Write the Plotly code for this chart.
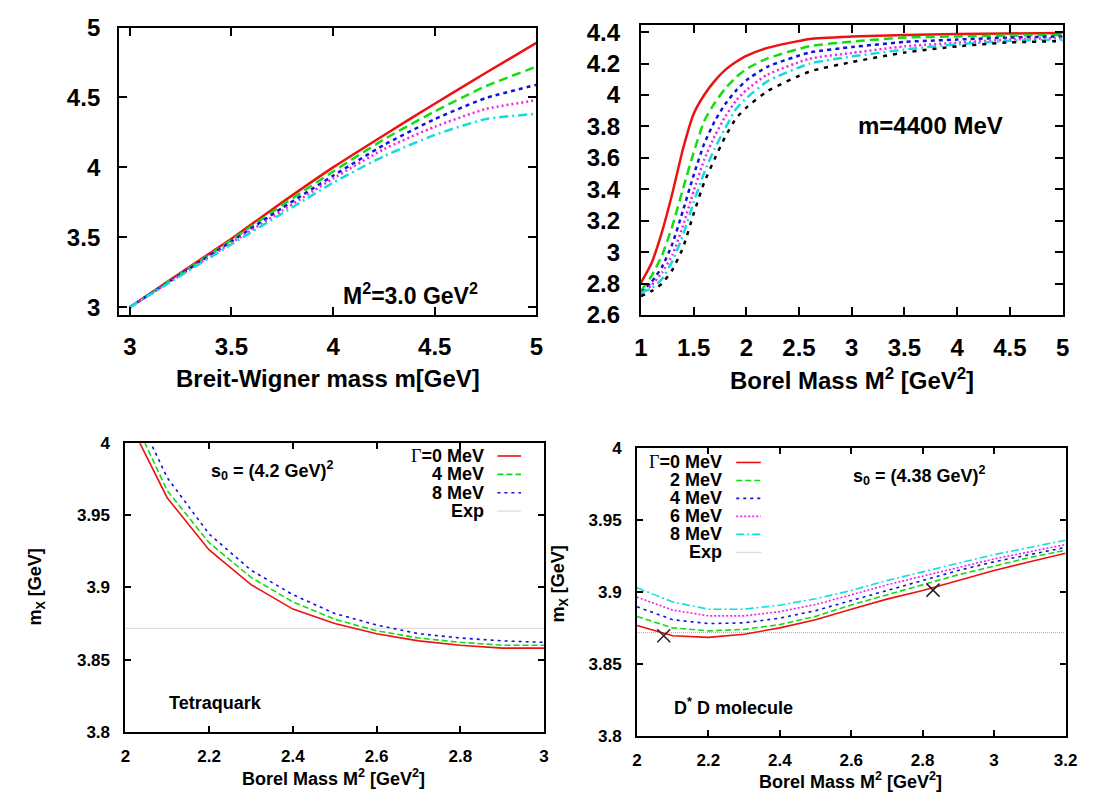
import plotly.graph_objects as go

W, H = 1107, 806

# ---- top left: mass vs Breit-Wigner mass, M^2 = 3.0 GeV^2
bw_m = [3.0, 3.25, 3.5, 3.75, 4.0, 4.25, 4.5, 4.75, 5.0]
bw_red = [3.0, 3.245, 3.49, 3.75, 4.0, 4.23, 4.455, 4.675, 4.89]
bw_green = [3.0, 3.24, 3.48, 3.73, 3.97, 4.20, 4.40, 4.58, 4.72]
bw_blue = [3.0, 3.235, 3.47, 3.71, 3.94, 4.16, 4.345, 4.495, 4.59]
bw_magenta = [3.0, 3.23, 3.46, 3.69, 3.92, 4.13, 4.29, 4.417, 4.48]
bw_cyan = [3.0, 3.225, 3.45, 3.67, 3.89, 4.08, 4.232, 4.345, 4.383]

# ---- top right: mass vs Borel mass, m = 4400 MeV
tr_M2 = [1.0, 1.1, 1.2, 1.3, 1.4, 1.5, 1.6, 1.7, 1.8, 1.9, 2.0, 2.2, 2.6, 3.0, 3.5, 4.0, 4.5, 5.0]
tr_red = [2.805, 2.93, 3.13, 3.38, 3.66, 3.88, 4.0, 4.09, 4.16, 4.21, 4.25, 4.30, 4.357, 4.372, 4.382, 4.388, 4.392, 4.395]
tr_green = [2.754, 2.848, 2.98, 3.17, 3.406, 3.634, 3.834, 3.95, 4.042, 4.112, 4.166, 4.233, 4.311, 4.34, 4.366, 4.373, 4.379, 4.383]
tr_blue = [2.743, 2.81, 2.906, 3.056, 3.267, 3.49, 3.69, 3.833, 3.943, 4.027, 4.094, 4.18, 4.271, 4.305, 4.338, 4.353, 4.366, 4.373]
tr_magenta = [2.733, 2.79, 2.87, 2.985, 3.17, 3.388, 3.588, 3.739, 3.863, 3.962, 4.032, 4.13, 4.231, 4.268, 4.31, 4.333, 4.353, 4.363]
tr_cyan = [2.743, 2.77, 2.83, 2.945, 3.11, 3.317, 3.506, 3.66, 3.79, 3.91, 3.98, 4.088, 4.2, 4.245, 4.29, 4.323, 4.345, 4.353]
tr_black = [2.72, 2.752, 2.80, 2.89, 3.03, 3.245, 3.444, 3.595, 3.735, 3.85, 3.92, 4.025, 4.15, 4.21, 4.27, 4.31, 4.335, 4.343]

# ---- bottom left: tetraquark
tq_M2 = [2.0, 2.1, 2.2, 2.3, 2.4, 2.5, 2.6, 2.7, 2.8, 2.9, 3.0]
tq_g0 = [4.02, 3.962, 3.926, 3.902, 3.885, 3.875, 3.868, 3.863, 3.860, 3.858, 3.858]
tq_g4 = [4.029, 3.967, 3.931, 3.907, 3.890, 3.878, 3.870, 3.865, 3.862, 3.860, 3.860]
tq_g8 = [4.037, 3.976, 3.937, 3.912, 3.895, 3.882, 3.874, 3.868, 3.865, 3.863, 3.862]

# ---- bottom right: D* D molecule
mol_M2 = [2.0, 2.1, 2.2, 2.3, 2.4, 2.5, 2.6, 2.7, 2.8, 2.9, 3.0, 3.1, 3.2]
mol_g0 = [3.8767, 3.8695, 3.8684, 3.8706, 3.875, 3.8807, 3.888, 3.895, 3.901, 3.908, 3.915, 3.921, 3.927]
mol_g2 = [3.883, 3.875, 3.8729, 3.874, 3.8773, 3.883, 3.891, 3.898, 3.905, 3.912, 3.918, 3.924, 3.929]
mol_g4 = [3.8897, 3.8807, 3.878, 3.8785, 3.8818, 3.887, 3.894, 3.901, 3.908, 3.915, 3.921, 3.926, 3.931]
mol_g6 = [3.8964, 3.8874, 3.8834, 3.8834, 3.8863, 3.8913, 3.898, 3.905, 3.911, 3.917, 3.923, 3.928, 3.933]
mol_g8 = [3.903, 3.893, 3.888, 3.888, 3.8908, 3.8953, 3.901, 3.908, 3.914, 3.920, 3.926, 3.931, 3.936]
mol_cross_x = [2.075, 2.829]
mol_cross_y = [3.8695, 3.9013]

m_exp = 3.8717

# tick labels
tl_ticks = [3, 3.5, 4, 4.5, 5]
tl_text = ["3", "3.5", "4", "4.5", "5"]
tr_xticks = [1, 1.5, 2, 2.5, 3, 3.5, 4, 4.5, 5]
tr_xtext = ["1", "1.5", "2", "2.5", "3", "3.5", "4", "4.5", "5"]
tr_yticks = [2.6, 2.8, 3.0, 3.2, 3.4, 3.6, 3.8, 4.0, 4.2, 4.4]
tr_ytext = ["2.6", "2.8", "3", "3.2", "3.4", "3.6", "3.8", "4", "4.2", "4.4"]
bl_xticks = [2, 2.2, 2.4, 2.6, 2.8, 3]
bl_xtext = ["2", "2.2", "2.4", "2.6", "2.8", "3"]
br_xticks = [2, 2.2, 2.4, 2.6, 2.8, 3, 3.2]
br_xtext = ["2", "2.2", "2.4", "2.6", "2.8", "3", "3.2"]
b_yticks = [3.8, 3.85, 3.9, 3.95, 4.0]
b_ytext = ["3.8", "3.85", "3.9", "3.95", "4"]

RED, GREEN, BLUE, MAG, CYAN, BLK = "#ee1111", "#11dd11", "#1111dd", "#ee22ee", "#11dddd", "#000000"
GRAY = "#a8a8a8"
FONT = "Liberation Sans"
GAMMA = "<span style=\"font-family:'Liberation Serif';font-weight:normal\">Γ</span>"


def px(x):
    return x / W


def py(y):
    return 1 - y / H


fig = go.Figure()


def line(xs, ys, color, dash, width, ax):
    fig.add_trace(go.Scatter(x=xs, y=ys, mode="lines", xaxis="x" + ax, yaxis="y" + ax,
                             line=dict(color=color, dash=dash, width=width, shape="spline", smoothing=0.5),
                             showlegend=False, hoverinfo="skip"))


# top left
for ys, c, d in [(bw_red, RED, "solid"), (bw_green, GREEN, "9px,5px"), (bw_blue, BLUE, "4px,4px"),
                 (bw_magenta, MAG, "2px,3px"), (bw_cyan, CYAN, "9px,4px,2px,4px")]:
    line(bw_m, ys, c, d, 2.5, "")

# top right
for ys, c, d in [(tr_red, RED, "solid"), (tr_green, GREEN, "9px,5px"), (tr_blue, BLUE, "4px,4px"),
                 (tr_magenta, MAG, "2px,3px"), (tr_cyan, CYAN, "9px,4px,2px,4px"), (tr_black, BLK, "4px,6px")]:
    line(tr_M2, ys, c, d, 2.5, "2")

# bottom left
fig.add_trace(go.Scatter(x=[2, 3], y=[m_exp, m_exp], mode="lines", xaxis="x3", yaxis="y3",
                         line=dict(color=GRAY, width=1, dash="1px,1px"), showlegend=False, hoverinfo="skip"))
for ys, c, d in [(tq_g0, RED, "solid"), (tq_g4, GREEN, "6px,3px"), (tq_g8, BLUE, "3px,4px")]:
    fig.add_trace(go.Scatter(x=tq_M2, y=ys, mode="lines", xaxis="x3", yaxis="y3",
                             line=dict(color=c, dash=d, width=1.6), showlegend=False, hoverinfo="skip"))

# bottom right
fig.add_trace(go.Scatter(x=[2, 3.2], y=[m_exp, m_exp], mode="lines", xaxis="x4", yaxis="y4",
                         line=dict(color=GRAY, width=1, dash="1px,1px"), showlegend=False, hoverinfo="skip"))
for ys, c, d in [(mol_g0, RED, "solid"), (mol_g2, GREEN, "6px,3px"), (mol_g4, BLUE, "3px,4px"),
                 (mol_g6, MAG, "2px,2px"), (mol_g8, CYAN, "8px,3px,2px,3px")]:
    fig.add_trace(go.Scatter(x=mol_M2, y=ys, mode="lines", xaxis="x4", yaxis="y4",
                             line=dict(color=c, dash=d, width=1.6), showlegend=False, hoverinfo="skip"))
fig.add_trace(go.Scatter(x=mol_cross_x, y=mol_cross_y, mode="markers", xaxis="x4", yaxis="y4",
                         marker=dict(symbol="x-thin", size=13, line=dict(color="#222222", width=1.5)),
                         showlegend=False, hoverinfo="skip"))


def axis(x0, x1, rng, vals, text, size, lw, tlen, standoff, anchor, is_y):
    d = dict(domain=[px(x0), px(x1)] if not is_y else [py(x1), py(x0)], range=rng,
             tickmode="array", tickvals=vals, ticktext=text, ticks="inside", ticklen=tlen,
             tickwidth=lw, tickcolor="black", showline=True, linecolor="black", linewidth=lw,
             mirror="ticks", showgrid=False, zeroline=False, anchor=anchor,
             tickfont=dict(family=FONT, size=size, color="black", weight="bold"),
             ticklabelstandoff=standoff)
    return d


fig.update_layout(
    width=W, height=H, margin=dict(l=0, r=0, t=0, b=0),
    paper_bgcolor="white", plot_bgcolor="white",
    font=dict(family=FONT, color="black", weight="bold"),
    xaxis=axis(114, 538.6, [2.947, 5.0], tl_ticks, tl_text, 24, 2, 8, 10, "y", False),
    yaxis=axis(14, 311, [2.947, 5.0], tl_ticks, tl_text, 24, 2, 8, 12, "x", True),
    xaxis2=axis(645, 1074, [1, 5], tr_xticks, tr_xtext, 24, 2, 8, 10, "y2", False),
    yaxis2=axis(11.5, 311.5, [2.6, 4.445], tr_yticks, tr_ytext, 24, 2, 8, 14, "x2", True),
    xaxis3=axis(120.5, 546.4, [2, 3], bl_xticks, bl_xtext, 17, 2, 6, 8, "y3", False),
    yaxis3=axis(444, 742.7, [3.8, 4.0], b_yticks, b_ytext, 17, 2, 6, 10, "x3", True),
    xaxis4=axis(641, 1077, [2, 3.2], br_xticks, br_xtext, 17, 2, 6, 8, "y4", False),
    yaxis4=axis(449.3, 746.7, [3.8, 4.0], b_yticks, b_ytext, 17, 2, 6, 10, "x4", True),
)

ann = []


def text(x, y, s, size, xanchor="center", angle=0):
    ann.append(dict(x=px(x), y=py(y), xref="paper", yref="paper", text=s, showarrow=False,
                    xanchor=xanchor, yanchor="middle", textangle=angle,
                    font=dict(family=FONT, size=size, color="black", weight="bold")))


text(411, 290, "M<sup>2</sup>=3.0 GeV<sup>2</sup>", 23)
text(327, 377, "Breit-Wigner mass m[GeV]", 24)
text(940, 115, "m=4400 MeV", 24)
text(860, 378, "Borel Mass M<sup>2</sup> [GeV<sup>2</sup>]", 24)

text(206, 472, "s<sub>0</sub> = (4.2 GeV)<sup>2</sup>", 18, "left")
text(163, 713, "Tetraquark", 18, "left")
text(30, 593, "m<sub>X</sub> [GeV]", 18, angle=-90)
text(332, 790, "Borel Mass M<sup>2</sup> [GeV<sup>2</sup>]", 18)

text(859, 478, "s<sub>0</sub> = (4.38 GeV)<sup>2</sup>", 18, "left")
text(677, 716, "D<sup>*</sup> D molecule", 18, "left")
text(562, 590, "m<sub>X</sub> [GeV]", 18, angle=-90)
text(858, 793, "Borel Mass M<sup>2</sup> [GeV<sup>2</sup>]", 18)

# legend keys (text right aligned, sample to the right)
shapes = []
bl_keys = [(GAMMA + "=0 MeV", RED, "solid", 1.6), ("4 MeV", GREEN, "6px,3px", 1.6),
           ("8 MeV", BLUE, "3px,4px", 1.6), ("Exp", GRAY, "1px,1px", 1)]
for i, (lab, c, d, w) in enumerate(bl_keys):
    yy = 457.3 + i * 19
    text(487, yy, lab, 18, "right")
    shapes.append(dict(type="line", xref="paper", yref="paper", x0=px(499), x1=px(523), y0=py(yy), y1=py(yy),
                       line=dict(color=c, dash=d, width=w)))

br_keys = [(GAMMA + "=0 MeV", RED, "solid", 1.6), ("2 MeV", GREEN, "6px,3px", 1.6), ("4 MeV", BLUE, "3px,4px", 1.6),
           ("6 MeV", MAG, "2px,2px", 1.6), ("8 MeV", CYAN, "8px,3px,2px,3px", 1.6), ("Exp", GRAY, "1px,1px", 1)]
for i, (lab, c, d, w) in enumerate(br_keys):
    yy = 464 + i * 18.6
    text(730, yy, lab, 18, "right")
    shapes.append(dict(type="line", xref="paper", yref="paper", x0=px(742), x1=px(767), y0=py(yy), y1=py(yy),
                       line=dict(color=c, dash=d, width=w)))

fig.update_layout(annotations=ann, shapes=shapes)

# page margin off so the figure sits at the window origin
fig.write_html("out.html", config={"displayModeBar": False},
               post_script="document.body.style.margin='0';document.body.style.overflow='hidden';")
